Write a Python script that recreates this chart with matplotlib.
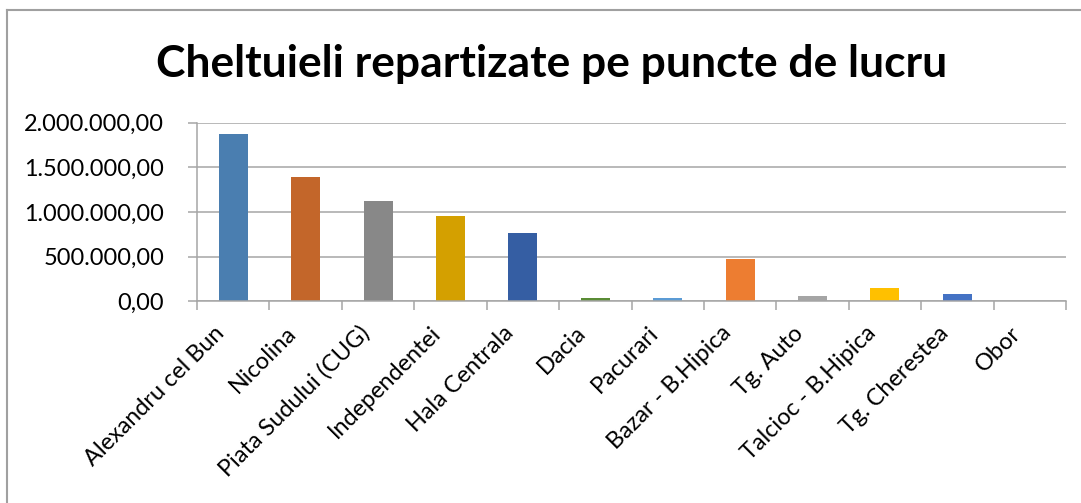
import matplotlib
matplotlib.use("Agg")
import matplotlib.pyplot as plt
from matplotlib.lines import Line2D
from matplotlib.ticker import FixedLocator, FixedFormatter, NullFormatter
from matplotlib.transforms import ScaledTranslation

# ---- data ----
categories = ["Alexandru cel Bun", "Nicolina", "Piata Sudului (CUG)", "Independentei",
              "Hala Centrala", "Dacia", "Pacurari", "Bazar - B.Hipica", "Tg. Auto",
              "Talcioc - B.Hipica", "Tg. Cherestea", "Obor"]
values = [1873000, 1392000, 1123000, 955000, 765000, 37000, 37000, 470000,
          59000, 148000, 81000, 0]
colors = ["#4A7EB0", "#C3662A", "#888888", "#D4A000", "#355EA3", "#5A8C35",
          "#5B9BD5", "#ED7D31", "#A5A5A5", "#FFC000", "#4472C4", "#6FA0D8"]
ytick_values = [0, 500000, 1000000, 1500000, 2000000]
ytick_labels = ["0,00", "500.000,00", "1.000.000,00", "1.500.000,00", "2.000.000,00"]
title = "Cheltuieli repartizate pe puncte de lucru"

W, H = 1081, 503
fig = plt.figure(figsize=(W / 100, H / 100), dpi=100)
fig.patch.set_facecolor("white")

FONT = ["Lato", "DejaVu Sans"]

# axes placement (pixel measurements from reference)
x0, x1 = 197, 1066
ytop, ybot = 122.7, 301.3
ax = fig.add_axes([x0 / W, 1 - ybot / H, (x1 - x0) / W, (ybot - ytop) / H])

n = len(categories)
pos = list(range(n))
ax.bar(pos, values, width=0.4, color=colors, zorder=3)
ax.set_xlim(-0.5, n - 0.5)
ax.set_ylim(0, 2000000)

grid_c = "#A6A6A6"
ax.yaxis.set_major_locator(FixedLocator(ytick_values))
ax.yaxis.set_major_formatter(FixedFormatter(ytick_labels))
ax.grid(axis="y", color=grid_c, linewidth=1.1, zorder=0)
ax.set_axisbelow(True)

# category boundaries ticks
ax.xaxis.set_major_locator(FixedLocator([i - 0.5 for i in range(n + 1)]))
ax.xaxis.set_major_formatter(NullFormatter())
ax.tick_params(axis="x", which="major", length=6.5, width=1.1, color=grid_c, direction="out")
ax.tick_params(axis="y", which="major", length=6.5, width=1.1, color=grid_c, direction="out", pad=17)

for s in ["top", "right"]:
    ax.spines[s].set_visible(False)
for s in ["left", "bottom"]:
    ax.spines[s].set_color(grid_c)
    ax.spines[s].set_linewidth(1.1)
    ax.spines[s].set_zorder(4)

tick_fs = 16.8
for lab in ax.get_yticklabels():
    lab.set_fontfamily(FONT)
    lab.set_fontsize(tick_fs)
    lab.set_color("black")

# category labels, rotated 45 degrees, anchored near each category centre
off = ScaledTranslation(-0.20, -0.21, fig.dpi_scale_trans)
xlabels = []
for p, c in zip(pos, categories):
    xlabels.append(ax.text(p, 0, c, transform=ax.get_xaxis_transform() + off,
                           rotation=45, rotation_mode="anchor", ha="right", va="top",
                           fontsize=tick_fs, family=FONT, color="black", clip_on=False))

# title
t = fig.text(551.5 / W, 1 - 77 / H, title, ha="center", va="baseline",
             fontsize=30, fontweight="bold", family=FONT, color="black")

fig.canvas.draw()
r = fig.canvas.get_renderer()
# fit title width to reference (791 px)
w = t.get_window_extent(r).width
t.set_fontsize(30 * 791 / w)
# fit tick label size so the widest y label spans ~140 px
wy = max(l.get_window_extent(r).width for l in ax.get_yticklabels())
fs = tick_fs * 140 / wy
for lab in list(ax.get_yticklabels()) + xlabels:
    lab.set_fontsize(fs)

# chart-area border (left and top visible)
fig.add_artist(Line2D([7 / W, 7 / W], [0, 1 - 10 / H], transform=fig.transFigure,
                      color="#A0A0A0", linewidth=1.5))
fig.add_artist(Line2D([7 / W, 1], [1 - 10 / H, 1 - 10 / H], transform=fig.transFigure,
                      color="#A0A0A0", linewidth=1.5))

fig.savefig("out.png", dpi=100, facecolor="white")
